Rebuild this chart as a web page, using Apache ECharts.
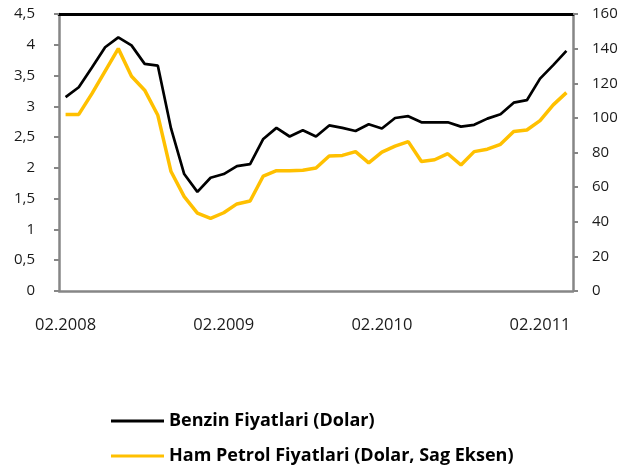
<!DOCTYPE html>
<html>
<head>
<meta charset="utf-8">
<script src="https://cdn.jsdelivr.net/npm/echarts@6/dist/echarts.min.js"></script>
<style>
html,body{margin:0;padding:0;background:#fff;}
#c{width:625px;height:472px;}
</style>
</head>
<body>
<div id="c"></div>
<script>
// Monthly categories 02.2008 .. 04.2011
const months = ["02.2008","03.2008","04.2008","05.2008","06.2008","07.2008","08.2008","09.2008","10.2008","11.2008","12.2008","01.2009",
"02.2009","03.2009","04.2009","05.2009","06.2009","07.2009","08.2009","09.2009","10.2009","11.2009","12.2009","01.2010",
"02.2010","03.2010","04.2010","05.2010","06.2010","07.2010","08.2010","09.2010","10.2010","11.2010","12.2010","01.2011",
"02.2011","03.2011","04.2011"];

const benzin = [3.15,3.31,3.63,3.96,4.12,3.99,3.69,3.66,2.64,1.90,1.61,1.84,
1.90,2.03,2.06,2.47,2.65,2.51,2.61,2.51,2.69,2.65,2.60,2.71,
2.64,2.81,2.84,2.74,2.74,2.74,2.67,2.70,2.80,2.87,3.06,3.10,
3.45,3.67,3.90];

const hamPetrol = [102,102,114,127,140,124,116,101.5,69,54.5,45,42,
45.2,50.3,52,66.4,69.5,69.5,69.7,71,78,78.3,80.5,74,
80.2,83.7,86.3,74.8,75.8,79.3,72.8,80.5,81.9,84.7,92.1,93,
98.4,107.5,114.6];

const seriesNames = ["Benzin Fiyatlari (Dolar)","Ham Petrol Fiyatlari (Dolar, Sag Eksen)"];

const gray = '#868686';
const font = '"Open Sans", "Noto Sans", sans-serif';

const chart = echarts.init(document.getElementById('c'), null, {renderer:'canvas'});
chart.setOption({
  animation:false,
  backgroundColor:'#fff',
  grid:{left:59, right:52, top:14, bottom:181, containLabel:false},
  legend:{
    orient:'vertical', left:106, top:407, itemGap:17,
    itemWidth:53, itemHeight:3, icon:'rect',
    textStyle:{fontFamily:font, fontWeight:'bold', fontSize:18, color:'#000'},
    data:seriesNames
  },
  xAxis:[{
    type:'category', data:months, boundaryGap:true, position:'bottom',
    axisLine:{onZero:false, lineStyle:{color:gray, width:2.5}},
    axisTick:{interval:11, length:4, lineStyle:{color:gray, width:2}},
    axisLabel:{interval:11, margin:26, fontFamily:font, fontSize:16.5, color:'#1a1a1a'},
    splitLine:{show:false}
  },{
    type:'category', data:months, boundaryGap:true, position:'top',
    axisLine:{onZero:false, lineStyle:{color:'#000', width:3}},
    axisTick:{show:false}, axisLabel:{show:false}, splitLine:{show:false}
  }],
  yAxis:[{
    type:'value', min:0, max:4.5, interval:0.5, position:'left',
    axisLine:{show:true, onZero:false, lineStyle:{color:gray, width:2.5}},
    axisTick:{show:true, length:5, lineStyle:{color:gray, width:2}},
    axisLabel:{margin:24, fontFamily:font, fontSize:15, color:'#1a1a1a',
      formatter:v=>String(v).replace('.',',')},
    splitLine:{show:false}
  },{
    type:'value', min:0, max:160, interval:20, position:'right',
    axisLine:{show:true, onZero:false, lineStyle:{color:gray, width:2.5}},
    axisTick:{show:true, length:5, lineStyle:{color:gray, width:2}},
    axisLabel:{margin:19, fontFamily:font, fontSize:15, color:'#1a1a1a'},
    splitLine:{show:false}
  }],
  series:[{
    name:seriesNames[0], type:'line', data:benzin, yAxisIndex:0, xAxisIndex:0,
    showSymbol:false, symbol:'none', z:3,
    lineStyle:{color:'#000', width:2.7}, itemStyle:{color:'#000'}
  },{
    name:seriesNames[1], type:'line', data:hamPetrol, yAxisIndex:1, xAxisIndex:0,
    showSymbol:false, symbol:'none', z:2,
    lineStyle:{color:'#FFC000', width:3.5}, itemStyle:{color:'#FFC000'}
  }]
});
</script>
</body>
</html>
